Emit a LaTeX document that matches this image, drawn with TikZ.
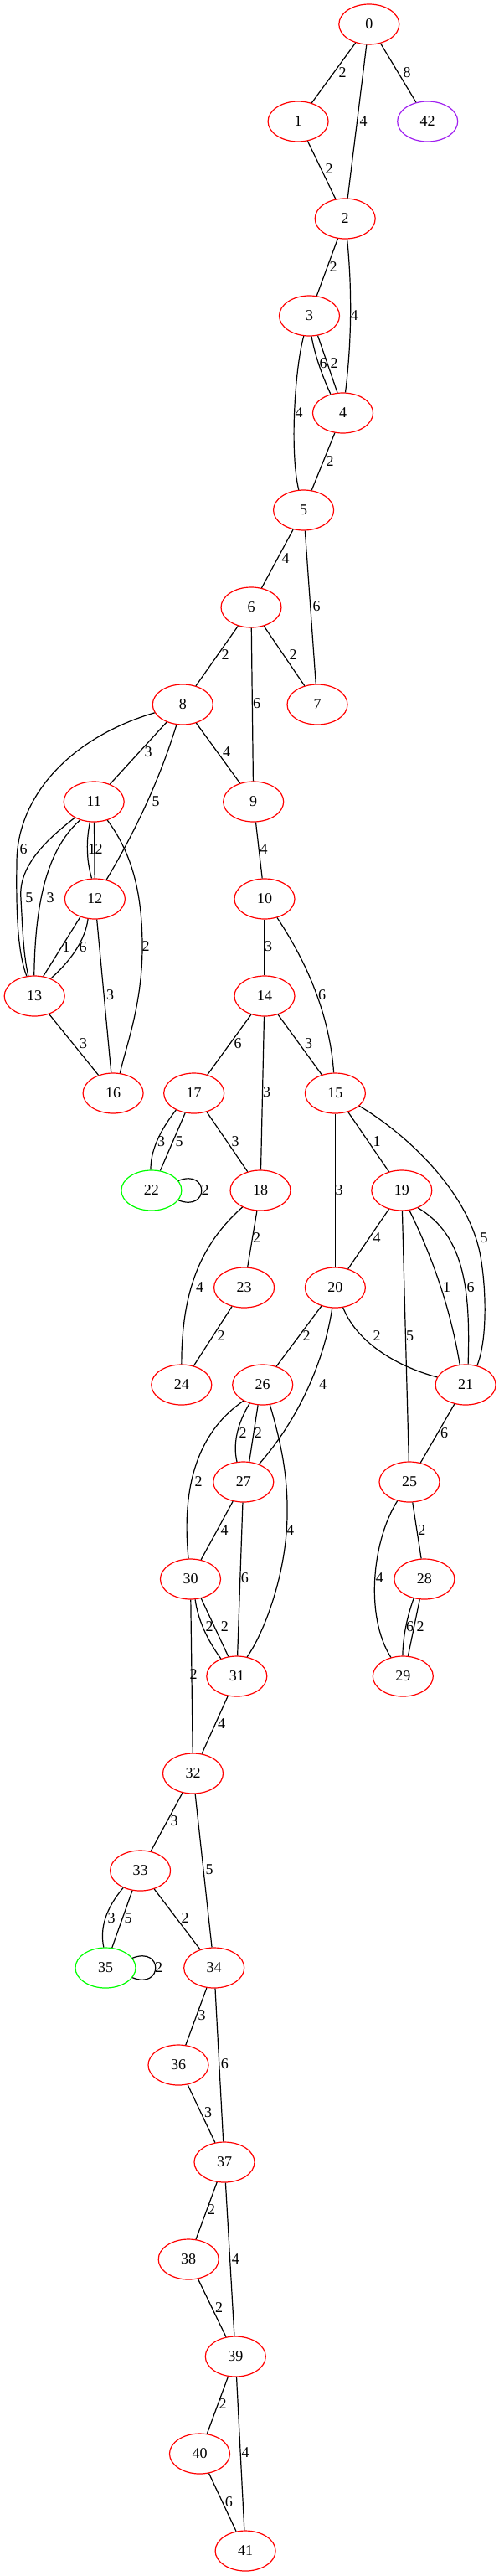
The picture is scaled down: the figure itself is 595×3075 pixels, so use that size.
\documentclass[tikz,border=0pt]{standalone}
\usepackage{fontspec}
\setmainfont{Liberation Serif}
\usetikzlibrary{shapes.geometric}
\definecolor{gvred}{RGB}{255,0,0}
\definecolor{gvgreen}{RGB}{0,255,0}
\definecolor{gvpurple}{RGB}{160,32,240}
\tikzset{
 vtx/.style={ellipse, draw=gvred, line width=1.2pt, minimum width=72pt, minimum height=48pt, inner sep=0pt, font=\fontsize{18}{18}\selectfont},
 grn/.style={vtx, draw=gvgreen},
 prp/.style={vtx, draw=gvpurple},
 edg/.style={line width=1.2pt, draw=black},
 lbl/.style={font=\fontsize{18}{18}\selectfont, inner sep=0pt}
}
\begin{document}
\begin{tikzpicture}[x=1pt,y=-1pt]
\useasboundingbox (0,0) rectangle (595,3075);
\fill[white] (0,0) rectangle (595,3075);
% nodes
\node[vtx] (n0) at (440.8,29) {0};
\node[vtx] (n1) at (356.1,145) {1};
\node[prp] (n42) at (510.7,145) {42};
\node[vtx] (n2) at (412.2,261) {2};
\node[vtx] (n3) at (369.5,377) {3};
\node[vtx] (n4) at (409.5,493) {4};
\node[vtx] (n5) at (362.6,609) {5};
\node[vtx] (n6) at (300,725) {6};
\node[vtx] (n8) at (218.3,841) {8};
\node[vtx] (n7) at (379,841) {7};
\node[vtx] (n11) at (112.2,957) {11};
\node[vtx] (n9) at (302.7,957) {9};
\node[vtx] (n12) at (113.4,1073) {12};
\node[vtx] (n10) at (316,1073) {10};
\node[vtx] (n13) at (41.2,1189) {13};
\node[vtx] (n14) at (316,1189) {14};
\node[vtx] (n16) at (135.1,1305) {16};
\node[vtx] (n17) at (231.7,1305) {17};
\node[vtx] (n15) at (400.4,1305) {15};
\node[grn] (n22) at (180.9,1421) {22};
\node[vtx] (n18) at (311,1421) {18};
\node[vtx] (n19) at (479.8,1421) {19};
\node[vtx] (n23) at (291.6,1537) {23};
\node[vtx] (n20) at (400.4,1537) {20};
\node[vtx] (n24) at (216.8,1653) {24};
\node[vtx] (n26) at (313.7,1653) {26};
\node[vtx] (n21) at (556.1,1653) {21};
\node[vtx] (n27) at (290.8,1769) {27};
\node[vtx] (n25) at (489,1769) {25};
\node[vtx] (n30) at (227.5,1885) {30};
\node[vtx] (n28) at (506.9,1885) {28};
\node[vtx] (n31) at (282.8,2001) {31};
\node[vtx] (n29) at (481.3,2001) {29};
\node[vtx] (n32) at (230.5,2117) {32};
\node[vtx] (n33) at (167.6,2233) {33};
\node[grn] (n35) at (126,2349) {35};
\node[vtx] (n34) at (255.7,2349) {34};
\node[vtx] (n36) at (213,2465) {36};
\node[vtx] (n37) at (268,2581) {37};
\node[vtx] (n38) at (225.2,2697) {38};
\node[vtx] (n39) at (281.3,2813) {39};
\node[vtx] (n40) at (238.5,2929) {40};
\node[vtx] (n41) at (293.1,3045) {41};
% edges
\draw[edg] (n0) -- (n1) node[lbl] at (409,87) {2};
\draw[edg] (n0) -- (n2) node[lbl] at (434,145) {4};
\draw[edg] (n0) -- (n42) node[lbl] at (486,87) {8};
\draw[edg] (n1) -- (n2) node[lbl] at (393,202) {2};
\draw[edg] (n2) -- (n3) node[lbl] at (398,319) {2};
\draw[edg] (n2) .. controls (420.6,346) and (420,408) .. (n4) node[lbl] at (423,377) {4};
\draw[edg] (n3.-84) .. controls (375.7,422) and (383.3,445) .. (n4.123) node[lbl] at (386,434) {6};
\draw[edg] (n3.-67) -- (n4.105) node[lbl] at (399,434) {2};
\draw[edg] (n3) .. controls (352,440) and (346,540) .. (n5) node[lbl] at (357,493) {4};
\draw[edg] (n4) -- (n5) node[lbl] at (394,551) {2};
\draw[edg] (n5) -- (n6) node[lbl] at (341,667) {4};
\draw[edg] (n5) -- (n7) node[lbl] at (378,724) {6};
\draw[edg] (n6) -- (n8) node[lbl] at (269,782) {2};
\draw[edg] (n6) -- (n9) node[lbl] at (306.5,840) {6};
\draw[edg] (n6) -- (n7) node[lbl] at (350,782) {2};
\draw[edg] (n8) -- (n11) node[lbl] at (177,898) {3};
\draw[edg] (n8) .. controls (192.1,926) and (164.5,987.6) .. (n12) node[lbl] at (186,957) {5};
\draw[edg] (n8) -- (n9) node[lbl] at (270.6,898) {4};
\draw[edg] (n8) .. controls (85,880) and (20,950) .. (20,1030) .. controls (19,1095) and (22,1140) .. (n13) node[lbl] at (28,1014) {6};
\draw[edg] (n11.-140) .. controls (45,1010) and (22,1040) .. (25,1073) .. controls (27,1110) and (28,1140) .. (n13.107) node[lbl] at (35,1072) {5};
\draw[edg] (n11.-127) .. controls (55,1015) and (42,1080) .. (n13.91) node[lbl] at (60,1072) {3};
\draw[edg] (n11.-101) .. controls (103,1003) and (103,1026) .. (n12.99) node[lbl] at (109.5,1014) {1};
\draw[edg] (n11) -- (n12) node[lbl] at (118,1014) {2};
\draw[edg] (n11.-54) .. controls (155,1015) and (170,1060) .. (170,1130) .. controls (170,1200) and (150,1250) .. (n16.71) node[lbl] at (174,1130) {2};
\draw[edg] (n12.-129) -- (n13.66) node[lbl] at (79,1131) {1};
\draw[edg] (n12.-109) .. controls (101.8,1120.7) and (87.2,1144.3) .. (n13.47) node[lbl] at (99,1131) {6};
\draw[edg] (n12) -- (n16) node[lbl] at (131.7,1188) {3};
\draw[edg] (n13) -- (n16) node[lbl] at (99.6,1246) {3};
\draw[edg] (n9) -- (n10) node[lbl] at (315,1014) {4};
\draw[edg] (n10) -- (n14) node[lbl] at (320.6,1130) {3};
\draw[edg] (n10) .. controls (372.3,1157.3) and (394.3,1219.7) .. (n15) node[lbl] at (384.7,1188) {6};
\draw[edg] (n14) -- (n17) node[lbl] at (284,1246) {6};
\draw[edg] (n14) -- (n18) node[lbl] at (318.7,1304) {3};
\draw[edg] (n14) -- (n15) node[lbl] at (368.7,1246) {3};
\draw[edg] (n17.-137) .. controls (189.3,1351.7) and (179.7,1375.3) .. (n22.92) node[lbl] at (192.7,1363) {3};
\draw[edg] (n17.-114) -- (n22.66) node[lbl] at (214,1363) {5};
\draw[edg] (n22.20) .. controls (250,1395) and (250,1447) .. (n22.-20) node[lbl] at (245,1421) {2};
\draw[edg] (n17) -- (n18) node[lbl] at (281,1363) {3};
\draw[edg] (n15) -- (n20) node[lbl] at (405,1421) {3};
\draw[edg] (n15) -- (n19) node[lbl] at (450,1363) {1};
\draw[edg] (n15.-28) .. controls (480,1350) and (560,1420) .. (574,1500) .. controls (581,1540) and (582,1600) .. (n21.59) node[lbl] at (578,1478) {5};
\draw[edg] (n18.-137) .. controls (240,1485) and (217,1540) .. (n24) node[lbl] at (238.5,1537) {4};
\draw[edg] (n18) -- (n23) node[lbl] at (306.5,1478) {2};
\draw[edg] (n19) -- (n20) node[lbl] at (450,1478) {4};
\draw[edg] (n19) -- (n25) node[lbl] at (489.7,1595) {5};
\draw[edg] (n19.-69) .. controls (518.7,1504.8) and (538.6,1565.9) .. (n21.106) node[lbl] at (533.6,1537) {1};
\draw[edg] (n19.-47) .. controls (555,1475) and (562,1540) .. (n21.83) node[lbl] at (562,1537) {6};
\draw[edg] (n23) -- (n24) node[lbl] at (264,1595) {2};
\draw[edg] (n20) -- (n26) node[lbl] at (366,1595) {2};
\draw[edg] (n20) .. controls (388,1620) and (360,1690) .. (n27) node[lbl] at (385.5,1653) {4};
\draw[edg] (n20) .. controls (425,1600) and (470,1630) .. (n21) node[lbl] at (450,1595) {2};
\draw[edg] (n21) -- (n25) node[lbl] at (530.5,1711) {6};
\draw[edg] (n26.-140) .. controls (228,1715) and (218,1790) .. (n30) node[lbl] at (237,1769) {2};
\draw[edg] (n26.-125) .. controls (282.7,1700.7) and (278.3,1724.3) .. (n27.108) node[lbl] at (290,1711) {2};
\draw[edg] (n26.-103) -- (n27.74) node[lbl] at (308.4,1711) {2};
\draw[edg] (n26.-70) .. controls (335,1720) and (344,1760) .. (343,1810) .. controls (342,1880) and (315,1950) .. (n31.62) node[lbl] at (346.6,1827) {4};
\draw[edg] (n27) -- (n30) node[lbl] at (268,1827) {4};
\draw[edg] (n27) -- (n31) node[lbl] at (292.4,1884) {6};
\draw[edg] (n25) .. controls (444,1840) and (436,1930) .. (n29) node[lbl] at (453.4,1884) {4};
\draw[edg] (n25) -- (n28) node[lbl] at (503.8,1827) {2};
\draw[edg] (n28.-119) .. controls (485.7,1931.3) and (481.3,1954.7) .. (n29.91) node[lbl] at (489.7,1942) {6};
\draw[edg] (n28.-103) -- (n29.76) node[lbl] at (502,1942) {2};
\draw[edg] (n30.-77) .. controls (236.3,1932.7) and (246.7,1956.3) .. (n31.132) node[lbl] at (250,1942) {2};
\draw[edg] (n30.-61) -- (n31.113) node[lbl] at (268.3,1942) {2};
\draw[edg] (n30) -- (n32) node[lbl] at (231,1999) {2};
\draw[edg] (n31) -- (n32) node[lbl] at (264.5,2058) {4};
\draw[edg] (n32) -- (n33) node[lbl] at (208,2174) {3};
\draw[edg] (n32) -- (n34) node[lbl] at (250,2232) {5};
\draw[edg] (n33.-135) .. controls (126.6,2277.7) and (119,2301.3) .. (n35.95) node[lbl] at (133,2290) {3};
\draw[edg] (n33.-112) -- (n35.72) node[lbl] at (153,2290) {5};
\draw[edg] (n35.20) .. controls (195,2323) and (195,2375) .. (n35.-20) node[lbl] at (189.7,2349) {2};
\draw[edg] (n33) -- (n34) node[lbl] at (221,2290) {2};
\draw[edg] (n34) -- (n36) node[lbl] at (241,2406) {3};
\draw[edg] (n34) -- (n37) node[lbl] at (268.3,2464) {6};
\draw[edg] (n36) -- (n37) node[lbl] at (248.5,2522) {3};
\draw[edg] (n37) -- (n38) node[lbl] at (252.7,2638) {2};
\draw[edg] (n37) -- (n39) node[lbl] at (281.3,2697) {4};
\draw[edg] (n38) -- (n39) node[lbl] at (261.5,2755) {2};
\draw[edg] (n39) -- (n40) node[lbl] at (266,2870) {2};
\draw[edg] (n39) -- (n41) node[lbl] at (293,2928) {4};
\draw[edg] (n40) -- (n41) node[lbl] at (273.3,2987) {6};
\end{tikzpicture}
\end{document}
